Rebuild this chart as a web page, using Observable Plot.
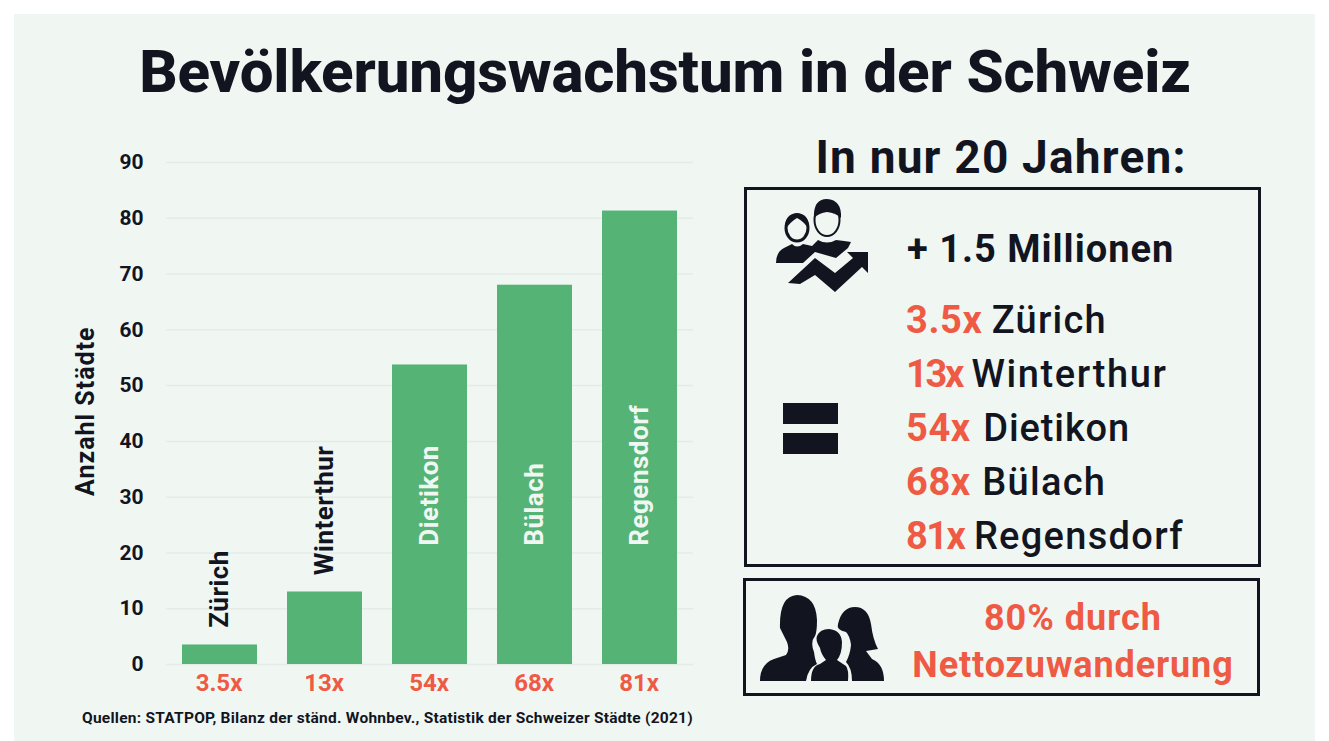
<!DOCTYPE html>
<html><head><meta charset="utf-8">
<script src="https://cdn.jsdelivr.net/npm/d3@7"></script>
<script src="https://cdn.jsdelivr.net/npm/@observablehq/plot@0.6"></script>
<style>
html,body{margin:0;padding:0;background:#fff;overflow:hidden}
#page{position:absolute;left:14px;top:14px;width:1301px;height:727px;background:#f0f7f3}
#root{position:absolute;left:0;top:0;width:1329px;height:741px;font-family:Roboto,sans-serif;color:#12151f}
.t{position:absolute;white-space:nowrap;line-height:1}
.box{position:absolute;border:3px solid #12151f;box-sizing:border-box}
.r{color:#ef5a45;font-weight:700}
#plot{position:absolute;left:0;top:0}
#plot svg{background:transparent;display:block}
#icons{position:absolute;left:0;top:0;width:100%;height:100%}
.cityLabel text{letter-spacing:0.5px}
.yTitle text{letter-spacing:1px}
</style></head><body>
<div id="page"></div>
<div id="root">
<div id="plot"></div>
<div class="box" style="left:744px;top:187px;width:517px;height:380px"></div>
<div class="box" style="left:743px;top:578px;width:517px;height:118px"></div>
<div style="position:absolute;left:783px;top:403px;width:55px;height:21px;background:#12151f"></div>
<div style="position:absolute;left:783px;top:433px;width:55px;height:21px;background:#12151f"></div>
</div>
<script>
const cities = ["Zürich","Winterthur","Dietikon","Bülach","Regensdorf"];
const multipliers = [3.5,13,53.7,68,81.3];
const multiplierLabels = ["3.5x","13x","54x","68x","81x"];
const labelStart = [6.6,16,21.3,21.3,21.3];
const labelFill = ["#12151f","#12151f","#f0f7f3","#f0f7f3","#f0f7f3"];
const yTicks = [0,10,20,30,40,50,60,70,80,90];
const rows = cities.map((c,i)=>({city:c,value:multipliers[i],tag:multiplierLabels[i],start:labelStart[i],fill:labelFill[i]}));
const F = "Roboto,sans-serif";

const chart = Plot.plot({
  width:720,height:741,marginLeft:166,marginRight:27,marginTop:162,marginBottom:77,
  style:{background:"transparent",fontFamily:F,color:"#12151f"},
  x:{domain:cities,paddingInner:0.29,paddingOuter:0.145,label:null},
  y:{domain:[0,90],label:null},
  marks:[
    Plot.gridY(yTicks,{stroke:"#e3ece6",strokeOpacity:1,strokeWidth:1.5}),
    Plot.barY(rows,{x:"city",y:"value",fill:"#55b375"}),
    Plot.axisY(yTicks,{tickSize:0,tickPadding:0,anchor:"left",dx:-23,fontSize:21,fontWeight:700,label:null,fill:"#12151f",textAnchor:"end"}),
    Plot.axisX({tickSize:0,tickPadding:0,dx:-1,dy:9,fontSize:24,fontWeight:700,fill:"#ef5a45",label:null,tickFormat:d=>multiplierLabels[cities.indexOf(d)]}),
    Plot.text(rows,{x:"city",y:"start",text:"city",rotate:-90,textAnchor:"start",fill:"fill",fontSize:26,fontWeight:700,className:"cityLabel"}),
    Plot.text(["Anzahl Städte"],{frameAnchor:"left",dx:-81,dy:82.5,rotate:-90,text:d=>d,fontSize:25,fontWeight:700,fill:"#12151f",className:"yTitle"})
  ]
});
document.getElementById("plot").append(chart);

const root=document.getElementById("root");
function T(html,x,base,size,weight,opts={}){
  const d=document.createElement("div");d.className="t";d.innerHTML=html;
  d.style.fontSize=size+"px";d.style.fontWeight=weight;d.style.top=(base-0.84*size)+"px";
  if(opts.center!==undefined){d.style.left=opts.center+"px";d.style.transform="translateX(-50%)";}else d.style.left=x+"px";
  if(opts.color)d.style.color=opts.color;
  if(opts.ls)d.style.letterSpacing=opts.ls+"px";
  root.append(d);
}
T("Bevölkerungswachstum in der Schweiz",0,92,60,800,{center:665,ls:-0.15});
T("In nur 20 Jahren:",0,173,46,700,{center:1001,ls:1.2});
T("+ 1.5 Millionen",907,262,38,700,{ls:1});
const lines=[["3.5x","Zürich",333,0.6,0,1.2],["13x","Winterthur",387,-2.3,0,1.6],["54x","Dietikon",441,0.6,3,0.9],["68x","Bülach",495,0.6,2,1.3],["81x","Regensdorf",549,-1.5,0,1.3]];
lines.forEach(([a,b,y,ls,m,nls])=>T(`<span class="r" style="letter-spacing:${ls}px">${a}</span> <span style="letter-spacing:${nls}px;margin-left:${m}px">${b}</span>`,906,y,38,500));
T("80% durch",0,630,36,700,{center:1073,color:"#ef5a45",ls:1});
T("Nettozuwanderung",0,677,36,700,{center:1073,color:"#ef5a45",ls:0.9});
T("Quellen: STATPOP, Bilanz der ständ. Wohnbev., Statistik der Schweizer Städte (2021)",82,724,15.5,700,{ls:0.25});

const ns="http://www.w3.org/2000/svg";
const ic=`<svg id="icons" xmlns="${ns}" viewBox="0 0 1329 741" aria-hidden="true" fill="#12151f" style="pointer-events:none">
<ellipse cx="797" cy="228" rx="11" ry="13" fill="none" stroke="#12151f" stroke-width="3"/>
<path d="M785 230 Q784 214 797 213 Q810 214 809 230 Q805 222 797 218 Q790 222 785 230Z"/>
<ellipse cx="827" cy="220" rx="12.5" ry="16" fill="none" stroke="#12151f" stroke-width="2"/>
<path d="M814 218 Q813 199 827 199 Q842 200 841 218 Q836 213 827 212 Q819 213 814 218Z"/>
<path d="M776 263 Q776 252 784 248 L792 244 Q797 249 803 244 L812 246 L818 240 Q827 245 836 240 Q845 241 851 242 L848 248 L836 258 L815 252 L803 263Z"/>
<path d="M788 283 L815 258 L835 273 L853 258 L847 252 L868 252 L868 273 L862 267 L835 292 L815 275 L800 284Z"/>
<path d="M760 681 Q760 664 774 659 L786 655 Q790 650 787 642 L780 628 Q779 596 797 595 Q816 596 817 620 Q817 632 815 636 Q810 642 814 652 Q815 660 817 664 Q808 668 806 681Z"/>
<path d="M811 681 Q811 666 820 664 L826 660 Q821 654 820 648 Q815 640 817 636 Q820 629 829 629 Q841 630 842 642 Q842 654 837 660 L846 666 Q849 670 848 681Z"/>
<path d="M852 681 Q852 668 846 662 Q850 655 851 645 Q850 636 846 632 Q836 630 838 624 Q842 607 855 607 Q868 607 871 624 Q873 640 878 649 L866 651 L872 659 Q884 664 884 681Z"/>
</svg>`;
root.insertAdjacentHTML("beforeend",ic);
</script>
</body></html>
